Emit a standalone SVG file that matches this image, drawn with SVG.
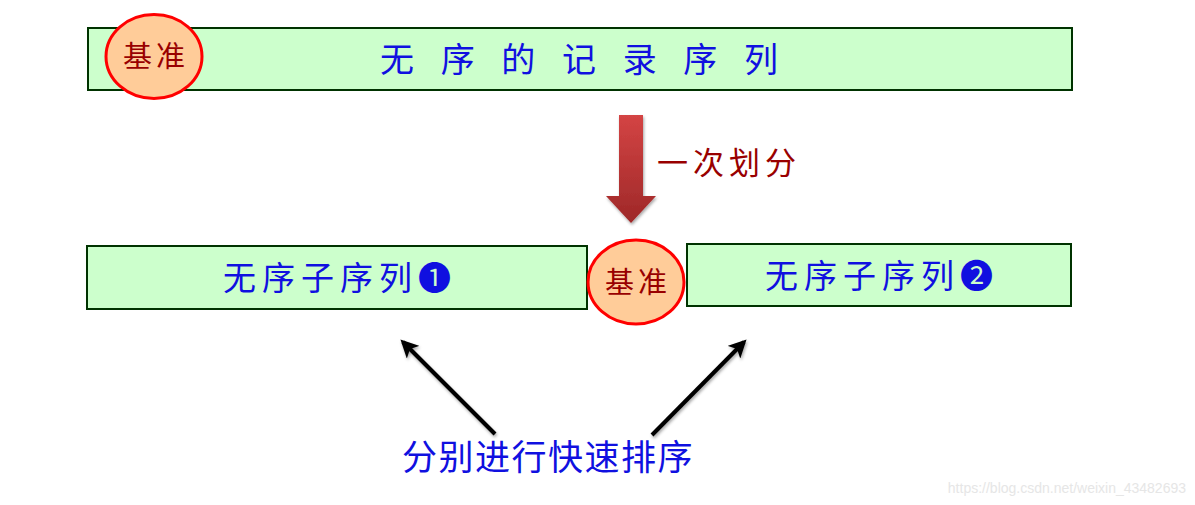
<svg xmlns="http://www.w3.org/2000/svg" width="1195" height="505" viewBox="0 0 1195 505">
<style>
.box{fill:#CCFFCC;stroke:#003300;stroke-width:2}
.pivot{fill:#FFCC99;stroke:#FF0000;stroke-width:3}
.pt{font-family:"Noto Sans CJK SC",sans-serif;font-size:29px;fill:#990000;text-anchor:middle;letter-spacing:4px}
.bt{font-family:"Noto Sans CJK SC",sans-serif;fill:#1010E0;text-anchor:middle}
.sub{font-size:33px;letter-spacing:6px}
.conn{stroke:#000;stroke-width:4;fill:none;marker-end:url(#ah)}
</style>
<defs>
<linearGradient id="rg" x1="0" y1="0" x2="0" y2="1">
<stop offset="0" stop-color="#D44444"/>
<stop offset="1" stop-color="#9E2828"/>
</linearGradient>
<marker id="ah" viewBox="0 0 10 10" refX="8" refY="5" markerWidth="4.5" markerHeight="4.5" orient="auto" markerUnits="strokeWidth">
<path d="M0,0 L10,5 L0,10 L2.5,5 z" fill="#000"/>
</marker>
<filter id="sh" x="-20%" y="-20%" width="140%" height="140%">
<feDropShadow dx="1" dy="2" stdDeviation="1.5" flood-color="#000" flood-opacity="0.35"/>
</filter>
</defs>
<g id="top-seq">
<rect class="box" x="88" y="28" width="984" height="62"/>
<text class="bt" x="579" y="72" font-size="34" textLength="398" lengthAdjust="spacing">无 序 的 记 录 序 列</text>
</g>
<g id="top-pivot">
<ellipse class="pivot" cx="154" cy="56.5" rx="48" ry="42"/>
<text class="pt" x="156" y="67">基准</text>
</g>
<g id="split-arrow">
<path d="M619,115 L643,115 L643,196 L656,196 L631,223 L606,196 L619,196 Z" fill="url(#rg)" filter="url(#sh)"/>
<text x="657" y="174" font-family="'Noto Sans CJK SC',sans-serif" font-size="31" fill="#990000" letter-spacing="5">一次划分</text>
</g>
<g id="sub1">
<rect class="box" x="87" y="246" width="500" height="63"/>
<text class="bt sub" x="340" y="290">无序子序列❶</text>
</g>
<g id="mid-pivot">
<ellipse class="pivot" cx="636" cy="282" rx="48" ry="42"/>
<text class="pt" x="638" y="293">基准</text>
</g>
<g id="sub2">
<rect class="box" x="687" y="244" width="384" height="62"/>
<text class="bt sub" x="882" y="288">无序子序列❷</text>
</g>
<g id="connectors" filter="url(#sh)">
<line class="conn" x1="495" y1="434" x2="403" y2="342"/>
<line class="conn" x1="652" y1="435" x2="744" y2="342"/>
</g>
<g id="label">
<text class="bt" x="548" y="470" font-size="35" letter-spacing="1.5">分别进行快速排序</text>
</g>
<text x="1186" y="493" font-family="'Liberation Sans',sans-serif" font-size="14" fill="#E6E6E6" text-anchor="end">https://blog.csdn.net/weixin_43482693</text>
</svg>
